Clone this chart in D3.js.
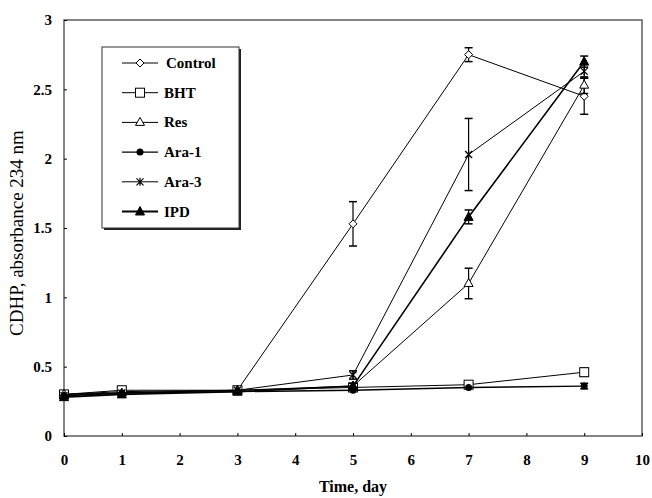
<!DOCTYPE html>
<html>
<head>
<meta charset="utf-8">
<script src="https://cdn.jsdelivr.net/npm/d3@7"></script>
<style>
  body { margin: 0; background: #fff; }
  text { font-family: "Liberation Serif", "DejaVu Serif", serif; }
</style>
</head>
<body>
<div id="chart"></div>
<script>
// data
var days = [0, 1, 3, 5, 7, 9];
var xTicks = [0, 1, 2, 3, 4, 5, 6, 7, 8, 9, 10];
var yTicks = [0, 0.5, 1, 1.5, 2, 2.5, 3];
var seriesNames = ["Control", "BHT", "Res", "Ara-1", "Ara-3", "IPD"];

var control = [0.30, 0.32, 0.33, 1.53, 2.75, 2.45];
var controlErr = [0, 0, 0, 0.16, 0.05, 0.13];
var bht = [0.30, 0.33, 0.33, 0.35, 0.37, 0.46];
var bhtErr = [0, 0, 0, 0, 0.02, 0.03];
var res = [0.30, 0.31, 0.33, 0.36, 1.10, 2.53];
var resErr = [0, 0, 0, 0, 0.11, 0.06];
var ara1 = [0.29, 0.31, 0.32, 0.33, 0.35, 0.36];
var ara1Err = [0, 0, 0, 0, 0, 0.02];
var ara3 = [0.29, 0.31, 0.33, 0.44, 2.03, 2.63];
var ara3Err = [0, 0, 0, 0.03, 0.26, 0.05];
var ipd = [0.28, 0.30, 0.32, 0.36, 1.58, 2.70];
var ipdErr = [0, 0, 0, 0.02, 0.05, 0.04];

var allValues = [control, bht, res, ara1, ara3, ipd];
var allErrs = [controlErr, bhtErr, resErr, ara1Err, ara3Err, ipdErr];
var markers = ["diamond", "square", "triangle", "circle", "star", "triangleFill"];
var lineWidths = [1, 1, 1, 1.4, 1, 1.6];

var width = 652, height = 498;
var plotLeft = 64, plotRight = 642, plotTop = 20, plotBottom = 436;

var svg = d3.select("#chart").append("svg").attr("width", width).attr("height", height);

var x = d3.scaleLinear().domain([0, 10]).range([plotLeft, plotRight]);
var y = d3.scaleLinear().domain([0, 3]).range([plotBottom, plotTop]);

// frame
svg.append("rect")
    .attr("x", plotLeft).attr("y", plotTop)
    .attr("width", plotRight - plotLeft).attr("height", plotBottom - plotTop)
    .attr("fill", "none").attr("stroke", "#444").attr("stroke-width", 1.3);

// axes with small inside ticks
var xA = d3.axisBottom(x).tickValues(xTicks).tickSize(-3).tickPadding(18).tickFormat(d3.format("d"));
var yA = d3.axisLeft(y).tickValues(yTicks).tickSize(-3).tickPadding(12).tickFormat(function(d){ return "" + d; });

var gx = svg.append("g").attr("transform", "translate(0," + plotBottom + ")").call(xA);
var gy = svg.append("g").attr("transform", "translate(" + plotLeft + ",0)").call(yA);
[gx, gy].forEach(function(g){
    g.select(".domain").remove();
    g.selectAll(".tick line").attr("stroke", "#000");
    g.selectAll(".tick text")
        .attr("fill", "#000")
        .style("font-family", "Liberation Serif, serif")
        .style("font-weight", "bold")
        .style("font-size", "15px");
});

// axis labels
svg.append("text")
    .attr("x", (plotLeft + plotRight) / 2).attr("y", 492)
    .style("text-anchor", "middle")
    .style("font-weight", "bold")
    .style("font-size", "16px")
    .text("Time, day");
svg.append("text")
    .attr("transform", "translate(23," + ((plotTop + plotBottom) / 2 + 5) + ") rotate(-90)")
    .style("text-anchor", "middle")
    .style("font-size", "19px")
    .text("CDHP, absorbance 234 nm");

// marker drawing
function drawMarker(g, type, cx, cy) {
    if (type == "diamond") {
        g.append("path").attr("d", "M" + cx + "," + (cy - 4) + "L" + (cx + 4) + "," + cy + "L" + cx + "," + (cy + 4) + "L" + (cx - 4) + "," + cy + "Z")
            .attr("fill", "#fff").attr("stroke", "#000").attr("stroke-width", 1);
    } else if (type == "square") {
        g.append("rect").attr("x", cx - 4.5).attr("y", cy - 4.5).attr("width", 9).attr("height", 9)
            .attr("fill", "#fff").attr("stroke", "#000").attr("stroke-width", 1);
    } else if (type == "triangle") {
        g.append("path").attr("d", "M" + cx + "," + (cy - 5) + "L" + (cx + 4.5) + "," + (cy + 3) + "L" + (cx - 4.5) + "," + (cy + 3) + "Z")
            .attr("fill", "#fff").attr("stroke", "#000").attr("stroke-width", 1);
    } else if (type == "triangleFill") {
        g.append("path").attr("d", "M" + cx + "," + (cy - 5) + "L" + (cx + 4.5) + "," + (cy + 3.5) + "L" + (cx - 4.5) + "," + (cy + 3.5) + "Z")
            .attr("fill", "#000").attr("stroke", "#000").attr("stroke-width", 1);
    } else if (type == "circle") {
        g.append("circle").attr("cx", cx).attr("cy", cy).attr("r", 3.5).attr("fill", "#000");
    } else if (type == "star") {
        g.append("path").attr("d", "M" + (cx - 3.5) + "," + (cy - 3.5) + "L" + (cx + 3.5) + "," + (cy + 3.5) +
            "M" + (cx - 3.5) + "," + (cy + 3.5) + "L" + (cx + 3.5) + "," + (cy - 3.5) +
            "M" + cx + "," + (cy - 4) + "L" + cx + "," + (cy + 4))
            .attr("stroke", "#000").attr("stroke-width", 1.2).attr("fill", "none");
    }
}

var line = d3.line().x(function(d){ return x(d[0]); }).y(function(d){ return y(d[1]); });

// series
allValues.forEach(function(vals, i){
    var g = svg.append("g");
    var pts = days.map(function(d, j){ return [d, vals[j], allErrs[i][j]]; });
    g.append("path").datum(pts)
        .attr("d", line)
        .attr("fill", "none")
        .attr("stroke", "#000")
        .attr("stroke-width", lineWidths[i]);
    // error bars
    pts.forEach(function(p){
        if (p[2] > 0) {
            var xx = x(p[0]), y1 = y(p[1] - p[2]), y2 = y(p[1] + p[2]);
            g.append("line").attr("x1", xx).attr("x2", xx).attr("y1", y1).attr("y2", y2).attr("stroke", "#000").attr("stroke-width", 1.2);
            g.append("line").attr("x1", xx - 4).attr("x2", xx + 4).attr("y1", y1).attr("y2", y1).attr("stroke", "#000").attr("stroke-width", 1.5);
            g.append("line").attr("x1", xx - 4).attr("x2", xx + 4).attr("y1", y2).attr("y2", y2).attr("stroke", "#000").attr("stroke-width", 1.5);
        }
    });
    pts.forEach(function(p){
        drawMarker(g, markers[i], x(p[0]), y(p[1]));
    });
});

// legend
var lg = svg.append("g");
lg.append("rect").attr("x", 104).attr("y", 49).attr("width", 137).attr("height", 181).attr("fill", "#222");
lg.append("rect").attr("x", 102).attr("y", 47).attr("width", 137).attr("height", 181)
    .attr("fill", "#fff").attr("stroke", "#333").attr("stroke-width", 1);
seriesNames.forEach(function(name, i){
    var ly = 63 + i * 29.7;
    lg.append("line").attr("x1", 122).attr("x2", 158).attr("y1", ly).attr("y2", ly)
        .attr("stroke", "#000").attr("stroke-width", lineWidths[i] + (i == 5 ? 0.6 : 0));
    drawMarker(lg, markers[i], 140, ly);
    lg.append("text").attr("x", i == 0 ? 166 : 164).attr("y", ly + 5)
        .style("font-weight", "bold").style("font-size", "15px").text(name);
});
</script>
</body>
</html>
